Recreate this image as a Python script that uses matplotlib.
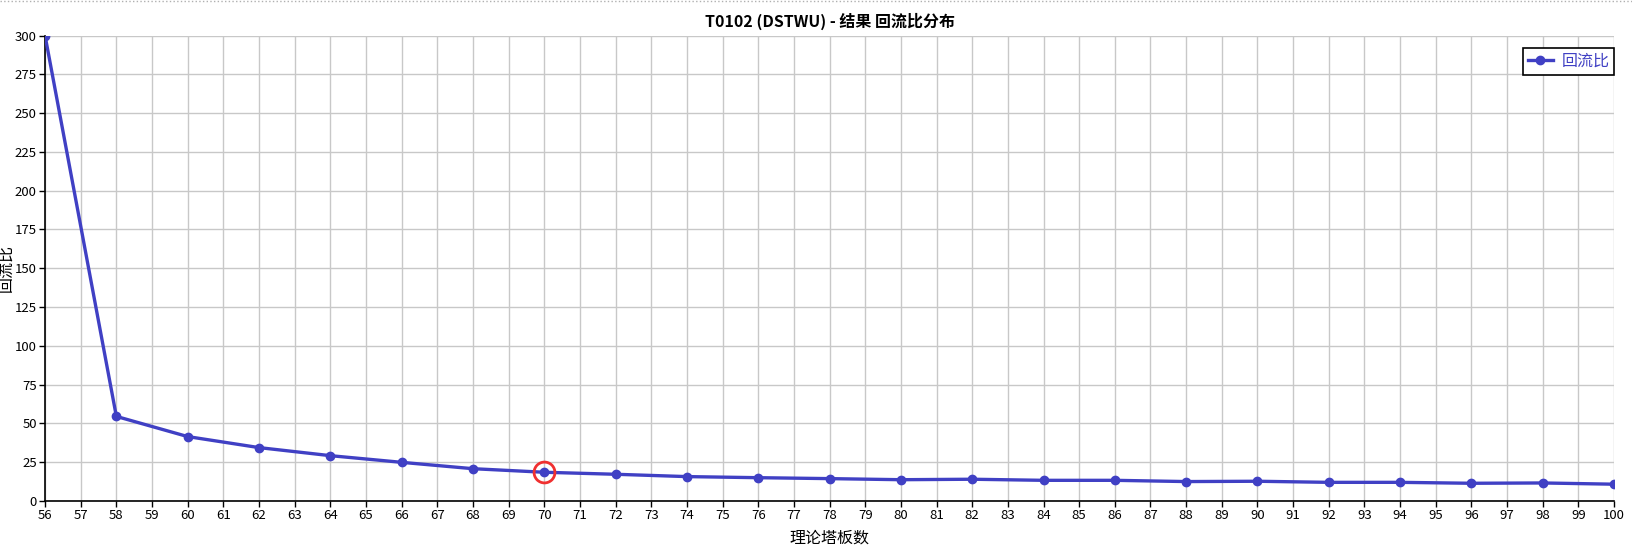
#!/usr/bin/env python3
import matplotlib
matplotlib.use("Agg")
import matplotlib.pyplot as plt
from matplotlib.lines import Line2D

# theoretical stages vs reflux ratio
stages = [56, 58, 60, 62, 64, 66, 68, 70, 72, 74, 76, 78, 80, 82, 84, 86, 88, 90, 92, 94, 96, 98, 100]
reflux = [300.0, 54.5, 41.5, 34.4, 29.2, 24.9, 20.8, 18.5, 17.2, 15.7, 15.0, 14.4, 13.7, 14.0,
          13.3, 13.3, 12.5, 12.7, 12.0, 12.0, 11.4, 11.6, 10.8]
highlight_stage = 70
highlight_value = 18.5

title = "T0102 (DSTWU) - 结果 回流比分布"
xlabel = "理论塔板数"
ylabel = "回流比"
series_name = "回流比"

plt.rcParams["font.family"] = ["Noto Sans CJK SC", "DejaVu Sans"]

line_color = "#4040c4"
grid_color = "#c8c8c8"

fig = plt.figure(figsize=(16.32, 5.56), dpi=100)
ax = fig.add_axes([0.0276, 0.099, 0.9614, 0.837])

ax.plot(stages, reflux, color=line_color, linewidth=2.4, marker="o", markersize=6,
        label=series_name, zorder=3)
ax.plot([highlight_stage], [highlight_value], marker="o", markersize=15, markerfacecolor="none",
        markeredgecolor="#f03030", markeredgewidth=2, linestyle="none", zorder=4)

ax.set_xlim(56, 100)
ax.set_ylim(0, 300)
ax.set_xticks(range(56, 101))
ax.set_yticks(range(0, 301, 25))
ax.tick_params(axis="both", labelsize=9.5, length=4, width=1, pad=2, color="black")
ax.grid(True, color=grid_color, linewidth=1)
ax.set_axisbelow(True)

for side in ("top", "right"):
    ax.spines[side].set_visible(False)
for side in ("left", "bottom"):
    ax.spines[side].set_color("black")
    ax.spines[side].set_linewidth(1.2)

ax.set_title(title, fontsize=11.5, fontweight="bold", pad=6)
ax.set_xlabel(xlabel, fontsize=11.5, labelpad=5)
ax.set_ylabel(ylabel, fontsize=11.5, labelpad=0)

handle = Line2D([], [], color=line_color, linewidth=2.4, marker="o", markersize=6)
leg = ax.legend([handle], [series_name], loc="upper right", bbox_to_anchor=(1.0, 0.973),
                fontsize=11.5, fancybox=False, framealpha=1, edgecolor="black",
                handlelength=1.6, borderpad=0.3, handletextpad=0.5, borderaxespad=0)
leg.get_frame().set_linewidth(1.2)
for txt in leg.get_texts():
    txt.set_color(line_color)

# dotted border at the very top
fig.add_artist(Line2D([0, 1], [0.998, 0.998], color="#b0b0b0", linewidth=1, linestyle=":"))

fig.savefig("out.png", dpi=100)
